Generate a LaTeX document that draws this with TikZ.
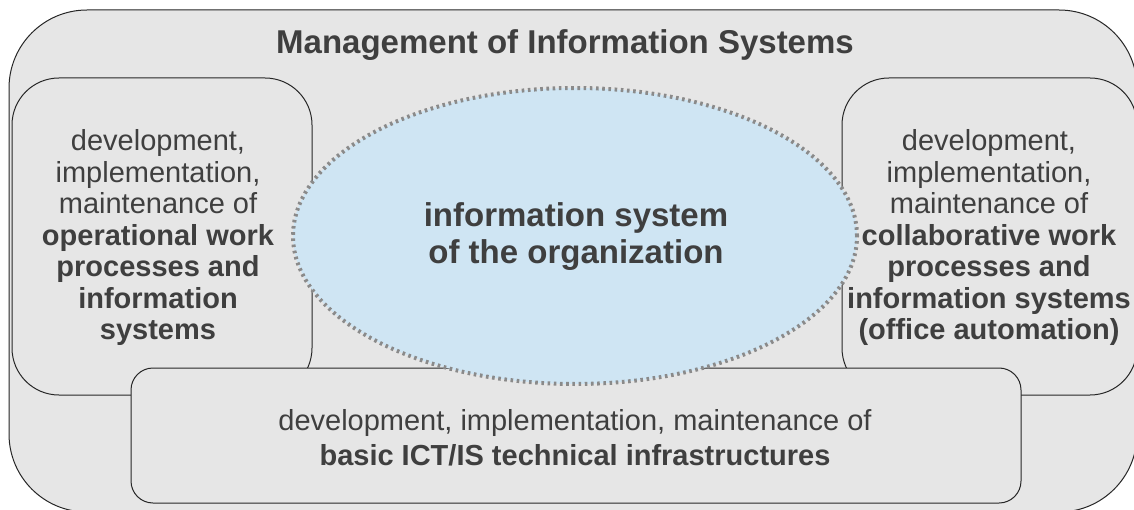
\documentclass[tikz,border=0pt]{standalone}
\usepackage{fontspec}
\setmainfont{Liberation Sans}
\usetikzlibrary{shapes.geometric}
\definecolor{boxgray}{HTML}{E6E6E6}
\definecolor{txtgray}{HTML}{3F3F3F}
\definecolor{ellblue}{HTML}{CFE5F3}
\definecolor{dotgray}{HTML}{8A8A8A}
\begin{document}
\begin{tikzpicture}[x=1pt,y=-1pt,
  panel/.style={draw=black!85, line width=1pt, fill=boxgray, rectangle, inner sep=0pt},
  sidetext/.style={text=txtgray, align=center, font=\fontsize{29}{31.5}\selectfont, inner sep=0pt},
  bigtext/.style={text=txtgray, align=center, font=\fontsize{33}{37}\selectfont\bfseries, inner sep=0pt},
  core/.style={ellipse, fill=ellblue, draw=dotgray, line width=4pt, dash pattern=on 2.6pt off 3.6pt, inner sep=0pt}]
\useasboundingbox (0,0) rectangle (1134,510);
% outer panel
\node[panel, rounded corners=78pt, minimum width=1128pt, minimum height=502pt] (outer) at (573,261) {};
% inner panels
\node[panel, rounded corners=47pt, minimum width=300pt, minimum height=317pt] (leftbox) at (162,236.5) {};
\node[panel, rounded corners=47pt, minimum width=295pt, minimum height=317pt] (rightbox) at (989.5,236.5) {};
\node[panel, rounded corners=22pt, minimum width=890pt, minimum height=135pt] (bottombox) at (576,435.5) {};
% central ellipse
\node[core, minimum width=564pt, minimum height=296pt] (core) at (575,236) {};
% texts
\node[bigtext] (title) at (565,45) {Management of Information Systems};
\node[bigtext] (coretext) at (576,237) {information system\\of the organization};
\node[sidetext] (lefttext) at (158,238) {development,\\implementation,\\maintenance of\\\textbf{operational work}\\\textbf{processes and}\\\textbf{information}\\\textbf{systems}};
\node[sidetext] (righttext) at (989,238) {development,\\implementation,\\maintenance of\\\textbf{collaborative work}\\\textbf{processes and}\\\textbf{information systems}\\\textbf{(office automation)}};
\node[sidetext, font=\fontsize{29}{35}\selectfont] (bottomtext) at (575,438) {development, implementation, maintenance of\\\textbf{basic ICT/IS technical infrastructures}};
\end{tikzpicture}
\end{document}
